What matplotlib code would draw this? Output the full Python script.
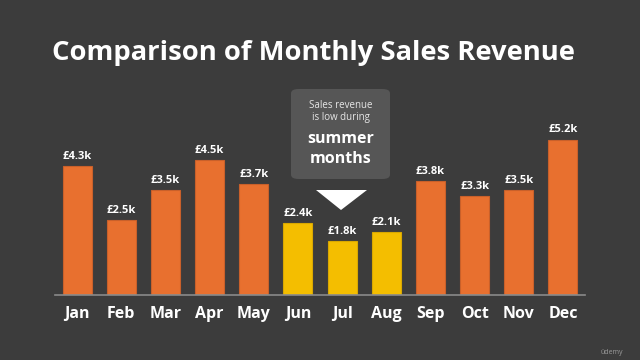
import matplotlib.pyplot as plt
from matplotlib.patches import FancyBboxPatch, Polygon

months = ['Jan', 'Feb', 'Mar', 'Apr', 'May', 'Jun', 'Jul', 'Aug', 'Sep', 'Oct', 'Nov', 'Dec']
revenue = [4.3, 2.5, 3.5, 4.5, 3.7, 2.4, 1.8, 2.1, 3.8, 3.3, 3.5, 5.2]
summer = ['Jun', 'Jul', 'Aug']

bg = '#3c3c3c'
orange = '#e8702f'
yellow = '#f4be00'
font = 'Open Sans'

W, H = 640, 360
fig = plt.figure(figsize=(6.4, 3.6), dpi=100, facecolor=bg)

# axes placed in pixels: x 55..585, baseline at y=295 from top
ax = fig.add_axes([55 / W, 65 / H, 530 / W, 275 / H])
ax.set_facecolor('none')
ax.set_xlim(-0.5, 11.5)
ax.set_ylim(0, 275 / 29.9)

x = list(range(len(months)))
cols = [yellow if m in summer else orange for m in months]
edges = ['#c9602a' if m not in summer else '#d9a800' for m in months]
ax.bar(x, revenue, width=0.66, color=cols, edgecolor=edges, linewidth=0.8, zorder=2)

for xi, v in zip(x, revenue):
    ax.annotate('£%.1fk' % v, (xi, v), xytext=(0, 3), textcoords='offset points',
                ha='center', va='bottom', color='white', fontsize=8,
                fontweight='bold', family=font)

ax.set_xticks(x)
ax.set_xticklabels(months, color='white', fontsize=11.5, fontweight='bold', family=font)
ax.tick_params(axis='x', length=0, pad=8)
ax.set_yticks([])
for s in ['top', 'right', 'left']:
    ax.spines[s].set_visible(False)
ax.spines['bottom'].set_color('#8a8a8a')
ax.spines['bottom'].set_linewidth(1.2)

fig.text(313 / W, 1 - 53 / H, 'Comparison of Monthly Sales Revenue', ha='center', va='center',
         color='white', fontsize=19.7, fontweight='bold', family=font)

# callout box and pointer (figure pixel coords, origin bottom-left)
box = FancyBboxPatch((291 / W, (H - 179) / H), 99 / W, 90 / H,
                     boxstyle='round,pad=0,rounding_size=0.012',
                     transform=fig.transFigure, facecolor='#565656', edgecolor='none')
fig.patches.append(box)
tri = Polygon([(316 / W, (H - 190) / H), (367 / W, (H - 190) / H), (341 / W, (H - 210) / H)],
              closed=True, transform=fig.transFigure, facecolor='white', edgecolor='none')
fig.patches.append(tri)

fig.text(340.5 / W, (H - 105) / H, 'Sales revenue', ha='center', va='center',
         color='#e6e6e6', fontsize=7, family=font)
fig.text(340.5 / W, (H - 118) / H, 'is low during', ha='center', va='center',
         color='#e6e6e6', fontsize=7, family=font)
fig.text(340.5 / W, (H - 139) / H, 'summer', ha='center', va='center',
         color='white', fontsize=11.5, fontweight='bold', family=font)
fig.text(340.5 / W, (H - 159) / H, 'months', ha='center', va='center',
         color='white', fontsize=11.5, fontweight='bold', family=font)

fig.text(612 / W, (H - 352) / H, 'ûdemy', ha='center', va='center',
         color='#9a9a9a', fontsize=5, family=font)

fig.savefig('out.png', dpi=100, facecolor=bg)
